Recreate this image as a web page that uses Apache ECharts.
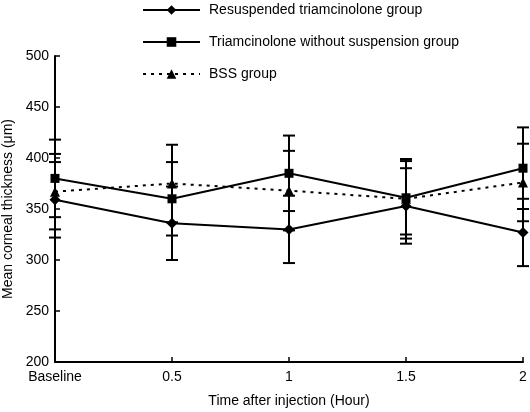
<!DOCTYPE html>
<html>
<head>
<meta charset="utf-8">
<script src="https://cdn.jsdelivr.net/npm/echarts@6/dist/echarts.min.js"></script>
<style>
html,body{margin:0;padding:0;background:#fff;}
#c{width:530px;height:412px;}
</style>
</head>
<body>
<div id="c"></div>
<script>
const categories = ['Baseline', '0.5', '1', '1.5', '2'];
const seriesNames = ['Resuspended triamcinolone group', 'Triamcinolone without suspension group', 'BSS group'];
const resuspendedMean = [359, 336, 330, 353, 327];
const resuspendedSD = [37, 36, 33, 37, 33];
const withoutSuspMean = [380, 360, 385, 361, 390];
const withoutSuspSD = [38, 36, 37, 36, 40];
const bssMean = [367, 375, 368, 360, 376];
const bssSD = [37, 38, 39, 39, 38];
const yTicks = [200, 250, 300, 350, 400, 450, 500];

const FONT = 'Liberation Sans, Arial, Helvetica, sans-serif';
const FS = 14;

function errData(mean, sd) {
  return mean.map((m, i) => [i, m - sd[i], m + sd[i]]);
}
function errorSeries(name, mean, sd) {
  return {
    type: 'custom',
    name: name + ' SD',
    data: errData(mean, sd),
    z: 1,
    renderItem: function (params, api) {
      const x = api.value(0);
      const lo = api.coord([x, api.value(1)]);
      const hi = api.coord([x, api.value(2)]);
      const w = 6;
      const st = { stroke: '#000', lineWidth: 2 };
      return {
        type: 'group',
        children: [
          { type: 'line', shape: { x1: lo[0], y1: lo[1], x2: hi[0], y2: hi[1] }, style: st },
          { type: 'line', shape: { x1: lo[0] - w, y1: lo[1], x2: lo[0] + w, y2: lo[1] }, style: st },
          { type: 'line', shape: { x1: hi[0] - w, y1: hi[1], x2: hi[0] + w, y2: hi[1] }, style: st }
        ]
      };
    }
  };
}
function lineSeries(name, mean, symbol, size, dashed) {
  return {
    type: 'line',
    name: name,
    data: mean,
    symbol: symbol,
    symbolSize: size,
    showSymbol: true,
    z: 3,
    itemStyle: { color: '#000' },
    lineStyle: { color: '#000', width: 2, type: dashed ? [3, 5] : 'solid' },
    emphasis: { disabled: true }
  };
}

const chart = echarts.init(document.getElementById('c'), null, { renderer: 'canvas' });
chart.setOption({
  animation: false,
  backgroundColor: '#fff',
  textStyle: { fontFamily: FONT, color: '#000' },
  legend: {
    data: seriesNames,
    orient: 'vertical',
    left: 137,
    top: -2,
    itemWidth: 57,
    itemHeight: 12,
    itemGap: 18,
    textStyle: { fontFamily: FONT, fontSize: FS, color: '#000', padding: [0, 0, 0, 4] },
    selectedMode: false
  },
  grid: { left: 55, right: 7, top: 56, bottom: 50, containLabel: false, outerBoundsMode: 'none' },
  xAxis: {
    type: 'category',
    data: categories,
    boundaryGap: false,
    name: 'Time after injection (Hour)',
    nameLocation: 'middle',
    nameGap: 32,
    nameTextStyle: { fontFamily: FONT, fontSize: FS, color: '#000' },
    axisLine: { lineStyle: { color: '#000', width: 2 } },
    axisTick: { inside: true, length: 5, lineStyle: { color: '#000', width: 1.5 } },
    axisLabel: { fontFamily: FONT, fontSize: FS, color: '#000', margin: 8 },
    splitLine: { show: false }
  },
  yAxis: {
    type: 'value',
    min: yTicks[0],
    max: yTicks[yTicks.length - 1],
    interval: 50,
    name: 'Mean corneal thickness (\u03bcm)',
    nameLocation: 'middle',
    nameGap: 35,
    nameTextStyle: { fontFamily: FONT, fontSize: FS, color: '#000' },
    axisLine: { show: true, lineStyle: { color: '#000', width: 2 } },
    axisTick: { show: true, inside: true, length: 5, lineStyle: { color: '#000', width: 1.5 } },
    axisLabel: { fontFamily: FONT, fontSize: FS, color: '#000', margin: 6 },
    splitLine: { show: false }
  },
  series: [
    errorSeries(seriesNames[0], resuspendedMean, resuspendedSD),
    errorSeries(seriesNames[1], withoutSuspMean, withoutSuspSD),
    errorSeries(seriesNames[2], bssMean, bssSD),
    lineSeries(seriesNames[0], resuspendedMean, 'diamond', 11, false),
    lineSeries(seriesNames[1], withoutSuspMean, 'rect', 9, false),
    lineSeries(seriesNames[2], bssMean, 'triangle', 10, true)
  ]
});
</script>
</body>
</html>
